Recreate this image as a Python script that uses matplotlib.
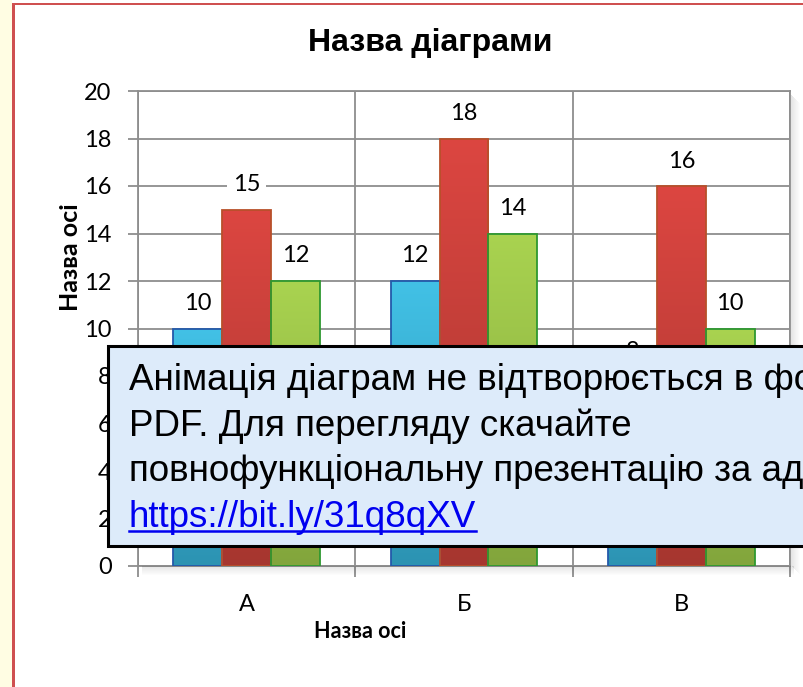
import matplotlib
matplotlib.use("Agg")
import matplotlib.pyplot as plt
import numpy as np
from matplotlib.colors import LinearSegmentedColormap
from matplotlib.patches import Rectangle
from matplotlib.lines import Line2D

# ---------------- data ----------------
categories = ["А", "Б", "В"]
series1 = [10, 12, 8]    # blue
series2 = [15, 18, 16]   # red
series3 = [12, 14, 10]   # green
yticks = [0, 2, 4, 6, 8, 10, 12, 14, 16, 18, 20]

title = "Назва діаграми"
axis_title = "Назва осі"
note_lines = ["Анімація діаграм не відтворюється в форматі",
              "PDF. Для перегляду скачайте",
              "повнофункціональну презентацію за адресою"]
note_url = "https://bit.ly/31q8qXV"

# ---------------- style ----------------
W, H = 804, 687
DPI = 100
fig = plt.figure(figsize=(W / DPI, H / DPI), dpi=DPI)
fig.patch.set_facecolor("white")

def fx(px):
    return px / W

def fy(py):
    return 1 - py / H

# slide background: cream strip + red frame
fig.add_artist(Rectangle((0, 0), fx(12.5), 1, transform=fig.transFigure,
                         facecolor="#FFFDE3", edgecolor="none", zorder=0))
fig.add_artist(Rectangle((fx(12.5), 0), fx(2.7), fy(2.8), transform=fig.transFigure,
                         facecolor="#CF5050", edgecolor="none", zorder=0))
fig.add_artist(Rectangle((fx(12.5), fy(5.0)), 1, 2.2 / H, transform=fig.transFigure,
                         facecolor="#CF5050", edgecolor="none", zorder=0))

# plot area
L, R, T, B = 138, 790, 91, 566
ax = fig.add_axes([fx(L), fy(B), fx(R - L), (B - T) / H])
ax.set_facecolor("white")

# plot-area shadow
for i in range(9):
    a = 0.10 * (1 - i / 9)
    fig.add_artist(Rectangle((fx(L + 4), fy(B + 1 + i)), fx(R - L), 1 / H,
                             transform=fig.transFigure, facecolor="black",
                             alpha=a, edgecolor="none", zorder=0.5))
    fig.add_artist(Rectangle((fx(R + 1 + i), fy(B + i)), 1 / W, (B - T - 4) / H,
                             transform=fig.transFigure, facecolor="black",
                             alpha=a, edgecolor="none", zorder=0.5))

grid_c = "#8E8E8E"
x = np.arange(len(categories))
bw = 0.225
series = [series1, series2, series3]
top_cols = ["#42C1E6", "#DC4641", "#A9D350"]
bot_cols = ["#2C93B2", "#A6362F", "#82A53C"]
edge_cols = ["#2459AA", "#B8502A", "#2E9830"]
offsets = [-bw, 0.0, bw]
fs = 17

grad = np.linspace(0, 1, 256).reshape(-1, 1)
for vals, tc, bc, ec, off in zip(series, top_cols, bot_cols, edge_cols, offsets):
    bars = ax.bar(x + off, vals, bw, facecolor="none", edgecolor=ec,
                  linewidth=1.3, zorder=4)
    cmap = LinearSegmentedColormap.from_list("g", [bc, tc])
    for b in bars:
        bx, bwid, bh = b.get_x(), b.get_width(), b.get_height()
        im = ax.imshow(grad, extent=[bx, bx + bwid, 0, bh], origin="lower",
                       cmap=cmap, aspect="auto", zorder=3, interpolation="bicubic")
        im.set_clip_path(b)
        ax.annotate(f"{b.get_height():g}", (bx + bwid / 2, bh),
                    xytext=(0, 18), textcoords="offset points",
                    ha="center", va="center", fontsize=fs, family="Lato",
                    color="black", zorder=5,
                    bbox=dict(boxstyle="square,pad=0.25", facecolor="white",
                              edgecolor="none"))

ax.set_xlim(-0.5, len(categories) - 0.5)
ax.set_ylim(0, 20)
ax.set_yticks(yticks)
ax.set_yticklabels([str(v) for v in yticks])
ax.set_xticks(x)
ax.set_xticklabels(categories)
ax.set_xticks(np.arange(len(categories) + 1) - 0.5, minor=True)
ax.tick_params(axis="x", which="major", length=0, pad=20, labelsize=fs)
ax.tick_params(axis="x", which="minor", length=8, width=1.3, color=grid_c)
ax.tick_params(axis="y", length=7, width=1.3, color=grid_c, pad=12, labelsize=fs)
for lab in ax.get_xticklabels() + ax.get_yticklabels():
    lab.set_family("Lato")
ax.grid(True, axis="y", color=grid_c, linewidth=1.3, zorder=1)
ax.grid(True, axis="x", which="minor", color=grid_c, linewidth=1.3, zorder=1)
ax.set_axisbelow(True)
for s in ax.spines.values():
    s.set_color(grid_c)
    s.set_linewidth(1.3)

# axis titles (positioned like the reference, not centred on the plot)
fig.text(fx(70), fy(257), axis_title, rotation=90, ha="center", va="center",
         fontsize=18, fontweight="bold", family="Lato")
fig.text(fx(360), fy(632), axis_title, ha="center", va="center",
         fontsize=15.5, fontweight="bold", family="Lato")

fig.text(fx(430), fy(43), title, ha="center", va="center", fontsize=23,
         fontweight="bold", family="Liberation Sans")

# overlay notice box
bx0, by0, bx1, by1 = 108, 346, 830, 546
fig.add_artist(Rectangle((fx(bx0), fy(by1)), fx(bx1 - bx0), (by1 - by0) / H,
                         transform=fig.transFigure, facecolor="#DDEBFA",
                         edgecolor="black", linewidth=2.2, zorder=10))
base_y = [390, 436, 481, 527]
for line, by in zip(note_lines, base_y[:3]):
    fig.text(fx(129), fy(by), line, ha="left", va="baseline", fontsize=26.5,
             family="Liberation Sans", color="black", zorder=11)
url = fig.text(fx(129), fy(base_y[3]), note_url, ha="left", va="baseline",
               fontsize=26.5, family="Liberation Sans", color="#0000F0", zorder=11)

fig.canvas.draw()
ext = url.get_window_extent()
uy = fy(base_y[3] + 4)
fig.add_artist(Line2D([ext.x0 / W, ext.x1 / W], [uy, uy], transform=fig.transFigure,
                      color="#0000F0", linewidth=1.8, zorder=11))

fig.savefig("out.png", dpi=DPI)
